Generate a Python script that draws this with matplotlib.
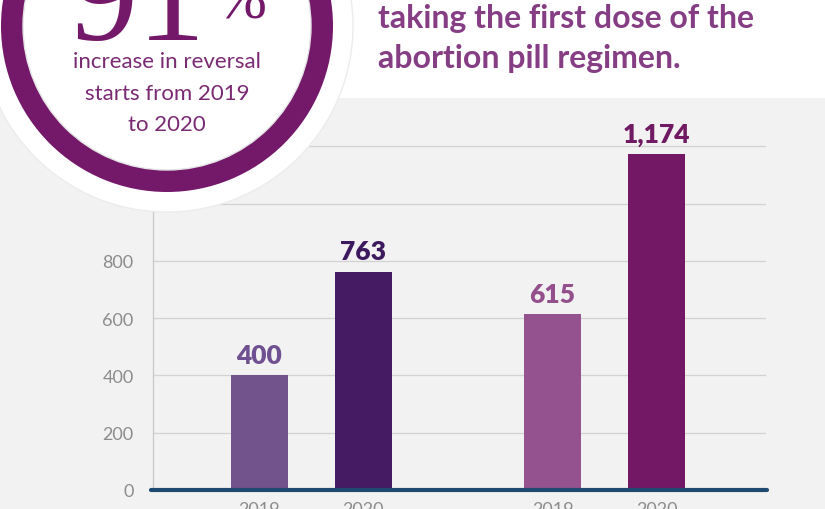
import matplotlib
matplotlib.use("Agg")
import matplotlib.pyplot as plt
from matplotlib.patches import Circle, Rectangle, Wedge

# data
years = ["2019", "2020", "2019", "2020"]
values = [400, 763, 615, 1174]
value_labels = ["400", "763", "615", "1,174"]
y_ticks = [0, 200, 400, 600, 800, 1000, 1200]
y_tick_labels = ["0", "200", "400", "600", "800", "", ""]

bar_colors = ["#73538b", "#451c63", "#94528e", "#721864"]
label_colors = ["#6f5090", "#3d1a5e", "#93508c", "#6f1a62"]

title_lines = ["taking the first dose of the", "abortion pill regimen."]
circle_lines = ["increase in reversal", "starts from 2019", "to 2020"]

W, H = 825, 510
fig = plt.figure(figsize=(W / 100, H / 100), dpi=100, facecolor="white")

# background layer in pixel coordinates
bg = fig.add_axes([0, 0, 1, 1], zorder=0)
bg.set_xlim(0, W)
bg.set_ylim(H, 0)
bg.axis("off")
bg.add_patch(Rectangle((0, 99), W, H - 99, fc="#f2f2f2", ec="none"))

# chart
ax = fig.add_axes([153 / W, 19 / H, 613 / W, 392 / H], zorder=1)
ax.set_facecolor("none")
group_centers = [0, 2.82]
positions = [g + d for g in group_centers for d in (-0.5, 0.5)]
ax.bar(positions, values, width=0.55, color=bar_colors, zorder=2)
for x, v, lab, c in zip(positions, values, value_labels, label_colors):
    ax.annotate(lab, (x, v), xytext=(0, 6), textcoords="offset points",
                ha="center", va="bottom", fontsize=19, fontweight="heavy",
                color=c, family="Lato")

ax.set_xlim(-1.524, 4.373)
ax.set_ylim(0, 1369)
ax.set_yticks(y_ticks)
ax.set_yticklabels(y_tick_labels)
ax.set_xticks(positions)
ax.set_xticklabels(years)
ax.grid(axis="y", color="#d2d2d2", lw=0.9, zorder=0)
ax.tick_params(length=0, labelsize=13, labelcolor="#8c8c8c")
ax.tick_params(axis="y", pad=14)
ax.tick_params(axis="x", pad=8)
for lab in ax.get_xticklabels() + ax.get_yticklabels():
    lab.set_family("Lato")
for side in ["top", "right", "bottom"]:
    ax.spines[side].set_visible(False)
ax.spines["left"].set_color("#c8c8c8")
ax.spines["left"].set_linewidth(0.9)
ax.axhline(0, xmin=-0.004, xmax=1.002, color="#1f4a70", lw=3,
           solid_capstyle="round", clip_on=False, zorder=3)

# foreground layer: circle badge and title
fg = fig.add_axes([0, 0, 1, 1], zorder=3)
fg.set_xlim(0, W)
fg.set_ylim(H, 0)
fg.axis("off")
fg.set_facecolor("none")

cx, cy = 167, 27
fg.add_patch(Circle((cx, cy), 186, fc="white", ec="#ececec", lw=1))
fg.add_patch(Wedge((cx, cy), 166, 0, 360, width=22, fc="#74196a", ec="none"))
fg.add_patch(Circle((cx, cy), 144, fc="none", ec="#e4e4e4", lw=1))

fg.text(70, 40, "91", family="Liberation Serif", fontsize=98,
        color="#74196a", ha="left", va="baseline")
fg.text(216, 18, "%", family="Liberation Serif", fontsize=44,
        color="#74196a", ha="left", va="baseline")
for i, line in enumerate(circle_lines):
    fg.text(cx, 62 + 31.5 * i, line, family="Lato", fontsize=16,
            color="#7a2a72", ha="center", va="center")

for i, line in enumerate(title_lines):
    fg.text(378, 28 + 40 * i, line, family="Lato", fontsize=23,
            fontweight="bold", color="#853d84", ha="left", va="baseline")

fig.savefig("out.png", dpi=100, facecolor="white")
